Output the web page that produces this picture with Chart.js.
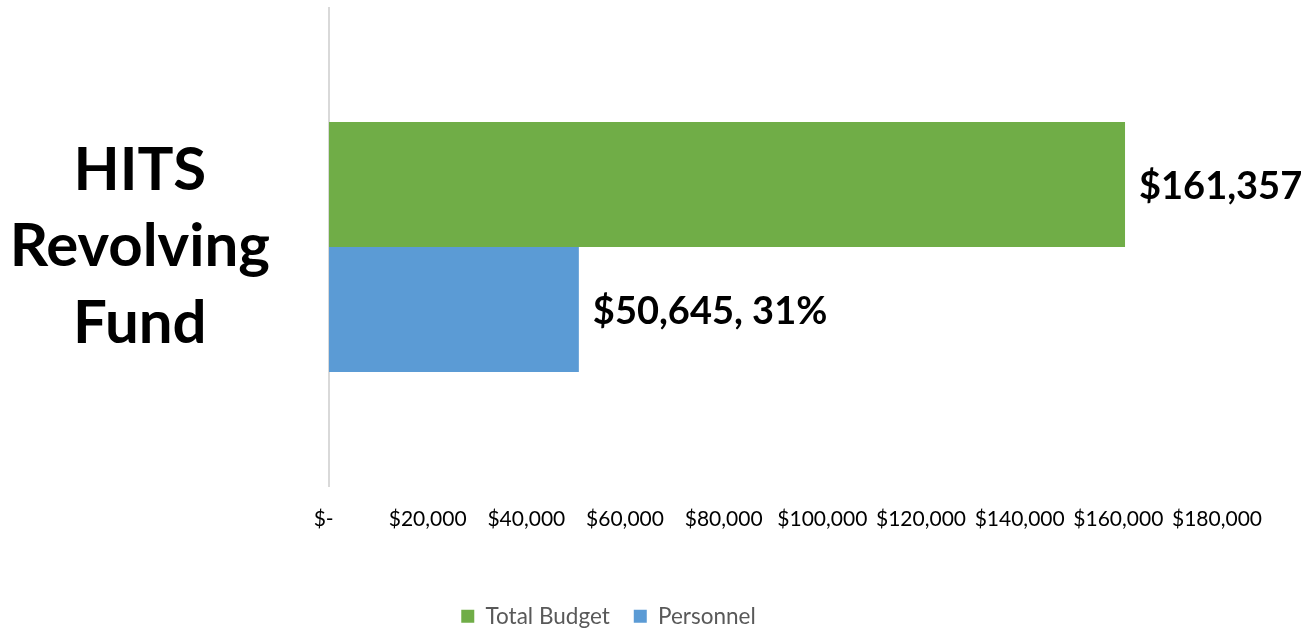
<!DOCTYPE html>
<html>
<head>
<meta charset="utf-8">
<script src="https://cdn.jsdelivr.net/npm/chart.js@4/dist/chart.umd.min.js"></script>
<style>
  html, body { margin: 0; padding: 0; background: #ffffff; }
  #wrap { width: 1304px; height: 629px; }
</style>
</head>
<body>
<div id="wrap"><canvas id="c" width="1304" height="629"></canvas></div>
<script>
const categories = [['HITS', 'Revolving', 'Fund']];
const seriesNames = ['Total Budget', 'Personnel'];
const totalBudget = [161357];
const personnel = [50645];
const tickValues = [0, 20000, 40000, 60000, 80000, 100000, 120000, 140000, 160000, 180000];
const tickLabels = ['$-  ', '$20,000', '$40,000', '$60,000', '$80,000', '$100,000', '$120,000', '$140,000', '$160,000', '$180,000'];

const FONT = 'Lato, "Open Sans", sans-serif';

function money(v) { return '$' + v.toLocaleString('en-US'); }

const dataLabels = {
  id: 'dataLabels',
  beforeUpdate(chart) {
    const lg = chart.legend;
    if (lg && !lg._fitWrapped) {
      const orig = lg.fit;
      lg.fit = function () { orig.call(this); this.height = 48; };
      lg._fitWrapped = true;
    }
  },
  afterDatasetsDraw(chart) {
    const ctx = chart.ctx;
    ctx.save();
    ctx.font = 'bold 38px ' + FONT;
    ctx.fillStyle = '#000000';
    ctx.textAlign = 'left';
    ctx.textBaseline = 'middle';
    chart.data.datasets.forEach((ds, di) => {
      const meta = chart.getDatasetMeta(di);
      meta.data.forEach((el, i) => {
        const v = ds.data[i];
        let txt = money(v);
        if (di === 1) {
          const pct = Math.round(v / totalBudget[i] * 100);
          txt += ', ' + pct + '%';
        }
        ctx.fillText(txt, el.x + 14, el.y + 2);
      });
    });
    ctx.restore();
  }
};

new Chart(document.getElementById('c'), {
  type: 'bar',
  data: {
    labels: categories,
    datasets: [
      { label: seriesNames[0], data: totalBudget, backgroundColor: '#70AD47', borderWidth: 0,
        barPercentage: 1, categoryPercentage: 0.523 },
      { label: seriesNames[1], data: personnel, backgroundColor: '#5B9BD5', borderWidth: 0,
        barPercentage: 1, categoryPercentage: 0.523 }
    ]
  },
  options: {
    indexAxis: 'y',
    responsive: false,
    animation: false,
    layout: { padding: { top: 8, right: 87, bottom: 0, left: 0 } },
    scales: {
      x: {
        min: 0, max: 180000,
        afterBuildTicks(scale) { scale.ticks = tickValues.map(v => ({ value: v })); },
        afterFit(scale) { scale.height = 95; scale.paddingLeft = 0; scale.paddingRight = 0; },
        grid: { display: false, drawTicks: false },
        border: { display: false },
        ticks: {
          padding: 21,
          color: '#000000',
          font: { family: FONT, size: 21 },
          maxRotation: 0,
          autoSkip: false,
          callback(value, index) { return tickLabels[index]; }
        }
      },
      y: {
        afterFit(scale) { scale.width = 329; scale.paddingTop = 0; scale.paddingBottom = 0; },
        grid: { display: false, drawTicks: false },
        border: { display: true, color: '#d9d9d9', width: 2 },
        ticks: {
          crossAlign: 'center',
          padding: 59,
          color: '#000000',
          font: { family: FONT, size: 60, weight: 'bold', lineHeight: 1.28 }
        }
      }
    },
    plugins: {
      legend: {
        position: 'bottom',
        labels: {
          boxWidth: 13, boxHeight: 13, padding: 24,
          color: '#595959',
          font: { family: FONT, size: 22.5 }
        }
      },
      tooltip: { enabled: false }
    }
  },
  plugins: [dataLabels]
});
</script>
</body>
</html>
